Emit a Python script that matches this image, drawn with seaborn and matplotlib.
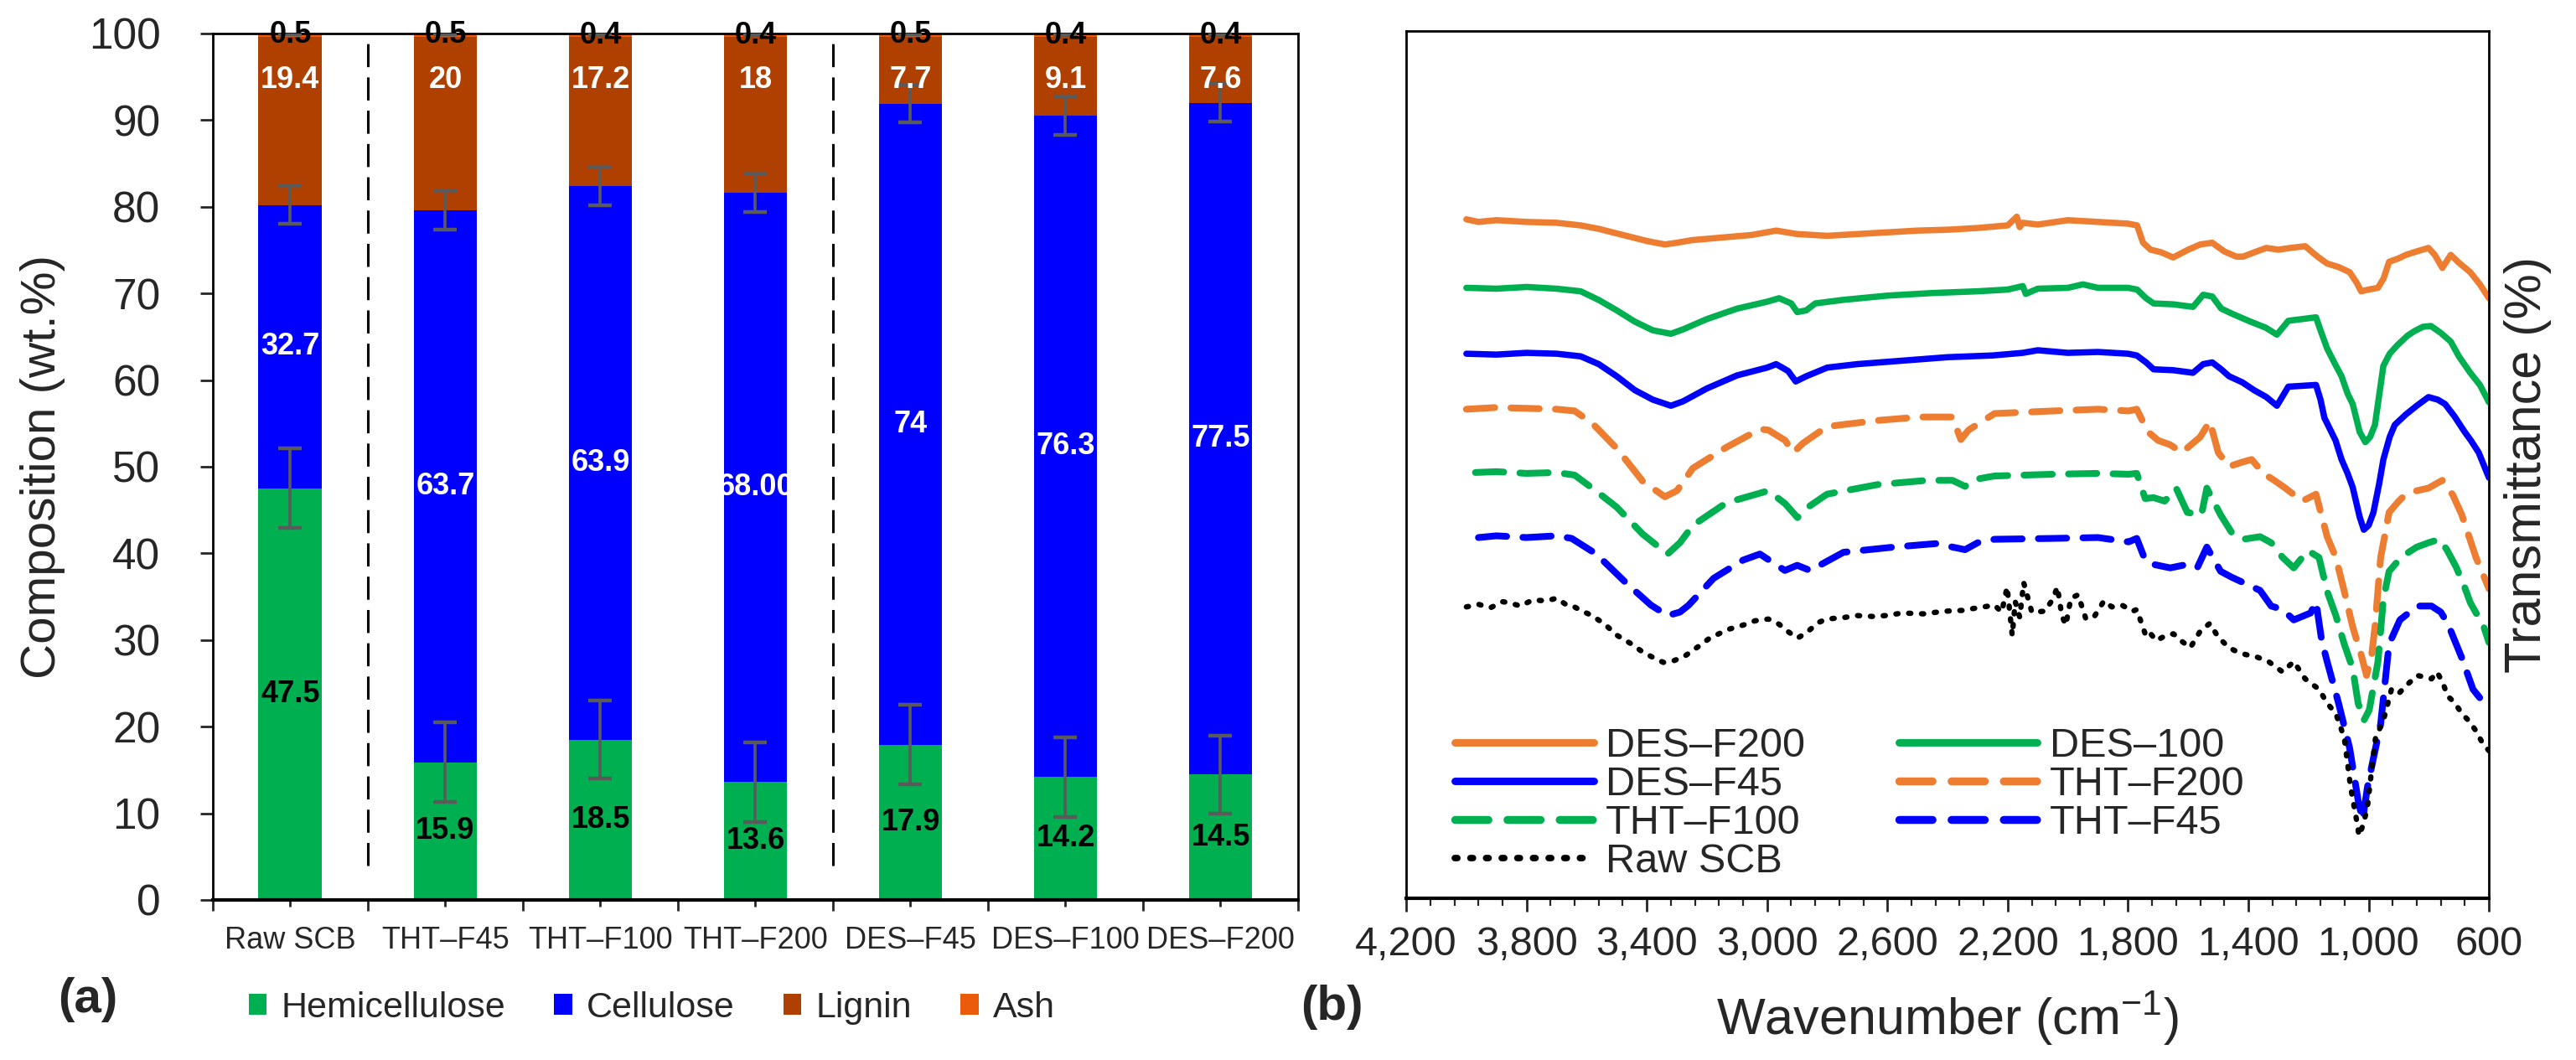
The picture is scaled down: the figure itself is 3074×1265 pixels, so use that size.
import numpy as np
import pandas as pd
import matplotlib
matplotlib.use("Agg")
import matplotlib.pyplot as plt
import matplotlib.ticker as mticker
from matplotlib.patches import Patch
from matplotlib.lines import Line2D
import seaborn as sns

# ---------------- (a) composition data ----------------
samples = ["Raw SCB", "THT–F45", "THT–F100", "THT–F200", "DES–F45", "DES–F100", "DES–F200"]
groups = ["Raw", "THT", "THT", "THT", "DES", "DES", "DES"]
hemicellulose = [47.5, 15.9, 18.5, 13.6, 17.9, 14.2, 14.5]
cellulose = [32.7, 63.7, 63.9, 68.00, 74, 76.3, 77.5]
cellulose_text = ["32.7", "63.7", "63.9", "68.00", "74", "76.3", "77.5"]
lignin = [19.4, 20, 17.2, 18, 7.7, 9.1, 7.6]
ash = [0.5, 0.5, 0.4, 0.4, 0.5, 0.4, 0.4]
hemi_err = [4.6, 4.6, 4.5, 4.6, 4.6, 4.6, 4.5]
cell_err = [2.2, 2.2, 2.2, 2.2, 2.2, 2.2, 2.2]
ash_err = [0.2, 0.2, 0.2, 0.2, 0.2, 0.2, 0.2]
components = ["Hemicellulose", "Cellulose", "Lignin", "Ash"]

# ---------------- (b) FTIR spectra (wavenumber, transmittance) ----------------
des_f200 = [(4000, 78.3), (3960, 78.0), (3900, 78.2), (3800, 78.0), (3700, 77.9), (3620, 77.6),
            (3560, 77.2), (3480, 76.5), (3400, 75.8), (3340, 75.4), (3300, 75.6), (3250, 75.9),
            (3150, 76.2), (3050, 76.5), (2970, 77.0), (2900, 76.6), (2800, 76.4), (2700, 76.6),
            (2600, 76.8), (2500, 77.0), (2400, 77.1), (2300, 77.3), (2200, 77.6), (2170, 78.6),
            (2160, 77.4), (2150, 77.9), (2100, 77.7), (2000, 78.2), (1900, 78.0), (1800, 77.8),
            (1770, 77.6), (1750, 75.6), (1725, 74.8), (1690, 74.5), (1650, 73.9), (1600, 74.8),
            (1560, 75.4), (1520, 75.6), (1480, 74.6), (1440, 74.0), (1417, 74.0), (1380, 74.5),
            (1340, 75.0), (1300, 74.8), (1260, 75.0), (1211, 75.2), (1170, 74.0), (1138, 73.2),
            (1100, 72.8), (1063, 72.2), (1040, 71.0), (1025, 70.0), (1000, 70.2), (969, 70.4),
            (950, 71.5), (932, 73.4), (900, 73.8), (876, 74.2), (840, 74.6), (801, 75.0),
            (780, 74.2), (755, 72.7), (727, 74.2), (700, 73.3), (662, 72.2), (630, 70.8), (600, 69.2)]

des_100 = [(4000, 70.4), (3900, 70.3), (3800, 70.5), (3700, 70.3), (3620, 70.0), (3560, 69.0),
           (3500, 67.8), (3440, 66.5), (3380, 65.5), (3320, 65.1), (3280, 65.6), (3200, 66.8),
           (3100, 68.0), (3000, 68.8), (2960, 69.2), (2920, 68.6), (2900, 67.6), (2870, 67.8),
           (2840, 68.6), (2750, 69.0), (2600, 69.5), (2450, 69.8), (2300, 70.0), (2200, 70.2),
           (2150, 70.6), (2140, 69.7), (2100, 70.3), (2000, 70.4), (1950, 70.8), (1900, 70.4),
           (1800, 70.4), (1770, 70.2), (1740, 69.2), (1715, 68.6), (1650, 68.5), (1584, 68.2),
           (1550, 69.6), (1520, 69.4), (1490, 68.0), (1453, 67.4), (1400, 66.6), (1342, 65.8),
           (1305, 65.0), (1267, 66.6), (1220, 66.8), (1175, 67.0), (1160, 65.5), (1138, 63.4),
           (1110, 61.5), (1090, 60.2), (1070, 58.2), (1053, 57.0), (1030, 53.8), (1011, 52.6),
           (995, 53.2), (979, 54.6), (965, 58.0), (951, 61.4), (930, 62.8), (904, 63.8),
           (870, 64.9), (848, 65.4), (820, 65.9), (793, 66.0), (760, 65.2), (727, 64.2),
           (700, 62.5), (662, 60.6), (630, 59.2), (600, 57.2)]

des_f45 = [(4000, 62.8), (3900, 62.7), (3800, 62.9), (3700, 62.8), (3620, 62.5), (3560, 61.6),
           (3500, 60.2), (3440, 58.6), (3380, 57.5), (3320, 56.8), (3280, 57.3), (3200, 58.8),
           (3100, 60.3), (3000, 61.2), (2970, 61.6), (2930, 60.8), (2905, 59.6), (2870, 60.2),
           (2800, 61.2), (2700, 61.6), (2550, 62.0), (2400, 62.4), (2250, 62.6), (2150, 62.9),
           (2100, 63.2), (2000, 62.9), (1900, 63.0), (1800, 62.8), (1771, 62.6), (1740, 61.8),
           (1715, 61.0), (1650, 60.9), (1584, 60.6), (1550, 61.6), (1520, 61.8), (1490, 61.0),
           (1464, 60.2), (1420, 59.5), (1381, 58.6), (1340, 57.8), (1305, 56.8), (1267, 59.0),
           (1220, 59.1), (1175, 59.2), (1160, 57.5), (1147, 55.4), (1110, 52.8), (1090, 50.6),
           (1070, 49.0), (1053, 47.4), (1030, 44.0), (1016, 42.5), (1000, 43.0), (984, 44.5),
           (965, 47.8), (951, 50.6), (930, 53.2), (913, 54.6), (876, 55.8), (840, 56.8),
           (801, 57.8), (770, 57.5), (746, 57.0), (715, 55.6), (681, 53.8), (660, 52.8),
           (634, 51.4), (600, 48.5)]

tht_f200 = [(4000, 56.4), (3900, 56.6), (3800, 56.5), (3700, 56.4), (3640, 56.2), (3582, 54.8),
            (3498, 51.8), (3414, 48.1), (3340, 46.3), (3300, 47.0), (3247, 49.6), (3136, 52.0),
            (3024, 54.1), (2996, 54.0), (2940, 52.8), (2913, 51.4), (2880, 52.5), (2801, 54.4),
            (2634, 55.1), (2495, 55.5), (2384, 55.5), (2356, 52.9), (2330, 54.0), (2244, 55.9),
            (2049, 56.2), (1900, 56.4), (1798, 56.2), (1771, 56.4), (1734, 53.8), (1700, 52.8),
            (1660, 52.3), (1621, 51.4), (1560, 53.2), (1528, 55.0), (1500, 51.4), (1464, 49.8),
            (1420, 50.3), (1389, 50.6), (1350, 49.0), (1314, 48.2), (1277, 47.3), (1221, 45.8),
            (1175, 46.6), (1138, 41.7), (1109, 39.3), (1081, 35.4), (1053, 31.3), (1025, 28.1),
            (1007, 25.7), (990, 28.0), (979, 31.3), (960, 39.3), (932, 44.5), (900, 45.8),
            (876, 46.6), (840, 47.0), (801, 47.3), (755, 48.2), (720, 46.5), (690, 44.2),
            (643, 39.3), (600, 35.7)]

tht_f100 = [(3970, 49.1), (3900, 49.2), (3800, 49.0), (3700, 49.1), (3640, 48.8), (3570, 47.0),
            (3500, 45.1), (3414, 42.0), (3331, 39.7), (3290, 41.0), (3247, 43.0), (3136, 45.6),
            (2996, 47.0), (2940, 45.5), (2899, 43.9), (2860, 45.2), (2801, 46.6), (2634, 47.7),
            (2467, 48.2), (2384, 48.2), (2342, 47.5), (2310, 48.3), (2244, 48.7), (2049, 48.9),
            (1900, 49.0), (1798, 48.9), (1771, 49.0), (1743, 46.1), (1715, 46.2), (1678, 45.8),
            (1640, 47.3), (1603, 44.5), (1556, 44.2), (1538, 47.3), (1492, 44.2), (1454, 42.1),
            (1417, 41.4), (1361, 41.7), (1324, 41.0), (1286, 39.3), (1249, 38.1), (1202, 40.1),
            (1165, 39.3), (1138, 35.4), (1109, 32.6), (1081, 29.3), (1053, 26.5), (1035, 22.5),
            (1016, 20.5), (998, 21.7), (969, 27.3), (951, 34.5), (932, 37.7), (900, 39.0),
            (876, 39.7), (840, 40.5), (801, 41.0), (764, 41.4), (740, 40.2), (709, 38.2),
            (680, 35.8), (662, 34.1), (617, 31.3), (600, 29.5)]

tht_f45 = [(3960, 41.6), (3900, 41.8), (3800, 41.6), (3700, 41.8), (3650, 41.5), (3568, 39.7),
           (3470, 36.4), (3386, 33.8), (3331, 32.6), (3290, 33.0), (3261, 33.8), (3178, 36.9),
           (3080, 39.0), (3024, 39.7), (2941, 37.8), (2900, 38.4), (2857, 37.8), (2746, 39.9),
           (2579, 40.5), (2439, 40.9), (2342, 40.2), (2300, 41.0), (2244, 41.4), (2049, 41.5),
           (1900, 41.6), (1798, 41.1), (1771, 41.5), (1743, 39.0), (1715, 38.5), (1660, 38.1),
           (1603, 38.5), (1570, 38.1), (1538, 40.5), (1492, 37.7), (1454, 37.0), (1398, 36.1),
           (1361, 35.5), (1324, 33.7), (1286, 33.3), (1249, 32.1), (1193, 32.9), (1175, 34.2),
           (1156, 29.7), (1138, 27.3), (1100, 22.5), (1063, 17.3), (1035, 11.3), (1020, 9.0),
           (1004, 12.8), (985, 16.0), (960, 20.1), (932, 29.3), (896, 32.1), (838, 33.7),
           (791, 33.7), (760, 33.0), (737, 31.7), (690, 27.7), (653, 24.1), (607, 22.1)]

raw_scb = [(4000, 33.6), (3960, 33.9), (3920, 33.5), (3880, 34.2), (3860, 34.1), (3820, 33.7),
           (3780, 34.4), (3735, 34.3), (3700, 34.6), (3670, 33.9), (3651, 33.8), (3620, 33.2),
           (3582, 32.6), (3540, 31.6), (3498, 30.3), (3450, 29.3), (3414, 28.4), (3370, 27.6),
           (3345, 27.2), (3310, 27.4), (3275, 27.9), (3230, 29.0), (3191, 30.0), (3130, 31.0),
           (3080, 31.5), (3040, 32.0), (2996, 32.2), (2960, 31.6), (2941, 31.0), (2899, 30.0),
           (2870, 30.6), (2830, 31.8), (2801, 32.2), (2740, 32.4), (2700, 32.6), (2650, 32.5),
           (2606, 32.6), (2550, 32.9), (2480, 32.8), (2411, 33.1), (2350, 33.2), (2300, 33.5),
           (2244, 33.8), (2220, 33.0), (2202, 35.9), (2185, 30.3), (2175, 34.2), (2160, 32.4),
           (2147, 36.4), (2120, 33.0), (2077, 33.1), (2050, 34.5), (2035, 35.9), (2020, 32.6),
           (2007, 31.5), (1990, 34.6), (1966, 35.0), (1940, 32.2), (1910, 32.6), (1880, 34.3),
           (1854, 33.6), (1820, 33.8), (1785, 33.1), (1771, 33.3), (1743, 30.5), (1734, 30.9),
           (1706, 29.7), (1680, 30.2), (1649, 30.5), (1620, 29.6), (1593, 28.9), (1560, 30.8),
           (1528, 31.7), (1500, 30.1), (1464, 28.9), (1436, 28.4), (1408, 28.1), (1370, 27.8),
           (1333, 27.3), (1286, 26.1), (1249, 27.3), (1211, 25.3), (1165, 24.1), (1138, 22.5),
           (1109, 21.3), (1081, 18.5), (1060, 12.8), (1040, 9.0), (1032, 7.2), (1018, 8.5),
           (1004, 10.5), (990, 14.8), (977, 18.5), (951, 20.5), (924, 24.1), (900, 23.6),
           (876, 24.5), (838, 25.7), (791, 25.3), (773, 26.1), (755, 25.0), (737, 23.3),
           (715, 22.6), (690, 21.3), (665, 20.4), (643, 19.3), (620, 17.8), (597, 16.9)]

spectra_names = ["DES–F200", "DES–100", "DES–F45", "THT–F200", "THT–F100", "THT–F45", "Raw SCB"]
spectra_data = [des_f200, des_100, des_f45, tht_f200, tht_f100, tht_f45, raw_scb]

# colours / styles
c_hemi, c_cell, c_lig, c_ash = "#00B050", "#0000FF", "#B04000", "#EA5B0C"
c_orange, c_green, c_blue = "#ED7D31", "#00B050", "#0000FF"
dash = (0, (4.2, 2.4))
dot = (0, (0.4, 2.0))
spectra_style = [
    (c_orange, "-", 5.4), (c_green, "-", 5.4), (c_blue, "-", 5.4),
    (c_orange, dash, 5.8), (c_green, dash, 5.8), (c_blue, dash, 5.8), ("black", dot, 4.6),
]

sns.set_style("ticks")
plt.rcParams["font.family"] = ["Liberation Sans", "DejaVu Sans"]

fig = plt.figure(figsize=(30.74, 12.65), dpi=100)
ax1 = fig.add_axes([0.0826, 0.151, 0.4213, 0.8174])
ax2 = fig.add_axes([0.5459, 0.1526, 0.4203, 0.818])

# ---------------- panel (a) ----------------
comp = pd.DataFrame({"sample": samples, "Hemicellulose": hemicellulose,
                     "Cellulose": cellulose, "Lignin": lignin, "Ash": ash})
comp["top_hemi"] = comp["Hemicellulose"]
comp["top_cell"] = comp["top_hemi"] + comp["Cellulose"]
comp["top_lig"] = comp["top_cell"] + comp["Lignin"]
comp["top_ash"] = comp["top_lig"] + comp["Ash"]

# stacked bars drawn as overlapping cumulative totals, tallest first
for col, colr in [("top_ash", c_ash), ("top_lig", c_lig), ("top_cell", c_cell), ("top_hemi", c_hemi)]:
    sns.barplot(data=comp, x="sample", y=col, color=colr, width=0.41, saturation=1,
                errorbar=None, linewidth=0, ax=ax1)

xpos = np.arange(len(samples))
err_kw = dict(fmt="none", ecolor="#5a5a5a", elinewidth=2.6, capsize=10, capthick=3.2, zorder=5)
ax1.errorbar(xpos, comp["top_hemi"], yerr=hemi_err, **err_kw)
ax1.errorbar(xpos, comp["top_cell"], yerr=cell_err, **err_kw)
ax1.errorbar(xpos, comp["top_ash"], yerr=ash_err, **err_kw)

lab_kw = dict(ha="center", va="center", fontsize=26, fontweight="bold", zorder=6)
for i in xpos:
    r = comp.iloc[i]
    ax1.text(i, r["top_hemi"] / 2, f"{r['Hemicellulose']:g}", color="black", **lab_kw)
    ax1.text(i, r["top_hemi"] + r["Cellulose"] / 2, cellulose_text[i], color="white", **lab_kw)
    ax1.annotate(f"{r['Lignin']:g}", (i, r["top_lig"]), xytext=(0, -37),
                 textcoords="offset points", color="white", **lab_kw)
    ax1.text(i, r["top_lig"] + r["Ash"] / 2, f"{r['Ash']:g}", color="black", clip_on=False, **lab_kw)

# dashed separators between sample groups
for i in range(1, len(groups)):
    if groups[i] != groups[i - 1]:
        ax1.vlines(i - 0.5, 4, 100, colors="black", linestyles=(0, (9, 4)), linewidth=2.2, zorder=4)

ax1.set_xlim(-0.5, len(samples) - 0.5)
ax1.set_ylim(0, 100)
ax1.set_yticks(np.arange(0, 101, 10))
ax1.xaxis.set_minor_locator(mticker.FixedLocator(np.arange(-0.5, len(samples), 1)))
ax1.set_xlabel("")
ax1.set_ylabel("Composition (wt.%)", fontsize=42)
ax1.yaxis.set_label_coords(-0.136, 0.5)
ax1.tick_params(axis="y", direction="out", length=11, width=2, labelsize=37, pad=34)
ax1.tick_params(axis="x", which="major", direction="out", length=6, width=2, labelsize=26, pad=16)
ax1.tick_params(axis="x", which="minor", direction="out", length=9, width=2)
for side in ["top", "right", "left", "bottom"]:
    ax1.spines[side].set_visible(True)
    ax1.spines[side].set_linewidth(2)
    ax1.spines[side].set_color("black")
ax1.spines["bottom"].set_linewidth(3)

leg_a = [Patch(facecolor=c, edgecolor="none", label=n)
         for c, n in zip([c_hemi, c_cell, c_lig, c_ash], components)]
fig.legend(handles=leg_a, loc="center left", bbox_to_anchor=(0.0965, 0.049), ncol=4,
           frameon=False, fontsize=31, handlelength=0.5, handleheight=0.5,
           handletextpad=0.4, columnspacing=1.35, borderpad=0, borderaxespad=0)
fig.text(0.034, 0.057, "(a)", fontsize=42, fontweight="bold", ha="center", va="center")

# ---------------- panel (b) ----------------
handles = []
for name, pts, (colr, ls, lw) in zip(spectra_names, spectra_data, spectra_style):
    df = pd.DataFrame(pts, columns=["wavenumber", "transmittance"])
    sns.lineplot(data=df, x="wavenumber", y="transmittance", color=colr, linestyle=ls,
                 linewidth=lw, estimator=None, sort=False, legend=False, ax=ax2)
    h = Line2D([], [], color=colr, linestyle=ls, linewidth=lw + 1.0, label=name,
               dash_capstyle="round")
    handles.append(h)
for line in ax2.get_lines():
    line.set_dash_capstyle("round")

order = [0, 2, 4, 6, 1, 3, 5]
ax2.legend(handles=[handles[k] for k in order], loc="lower left", bbox_to_anchor=(0.045, 0.02),
           ncol=2, frameon=False, fontsize=35, handlelength=3.4, handletextpad=0.3,
           columnspacing=2.3, labelspacing=0.02, borderpad=0, borderaxespad=0)

ax2.set_xlim(4200, 600)
ax2.set_ylim(0, 100)
ax2.set_yticks([])
ax2.xaxis.set_major_locator(mticker.FixedLocator(np.arange(600, 4201, 400)))
ax2.xaxis.set_minor_locator(mticker.FixedLocator(np.arange(600, 4201, 80)))
ax2.xaxis.set_major_formatter(mticker.FuncFormatter(lambda v, p: f"{v:,.0f}"))
ax2.tick_params(axis="x", which="major", direction="out", length=11.5, width=2, labelsize=35, pad=12)
ax2.tick_params(axis="x", which="minor", direction="out", length=6.5, width=1.6)
ax2.set_xlabel(r"Wavenumber (cm$^{\mathregular{-1}}$)", fontsize=44)
ax2.xaxis.set_label_coords(0.5, -0.105)
ax2.set_ylabel("Transmittance (%)", fontsize=44)
ax2.yaxis.set_label_position("right")
ax2.yaxis.set_label_coords(1.014, 0.5)
for side in ["top", "right", "left", "bottom"]:
    ax2.spines[side].set_visible(True)
    ax2.spines[side].set_linewidth(2)
    ax2.spines[side].set_color("black")
ax2.spines["bottom"].set_linewidth(3)

fig.text(0.517, 0.05, "(b)", fontsize=42, fontweight="bold", ha="center", va="center")

fig.savefig("out.png", dpi=100)
